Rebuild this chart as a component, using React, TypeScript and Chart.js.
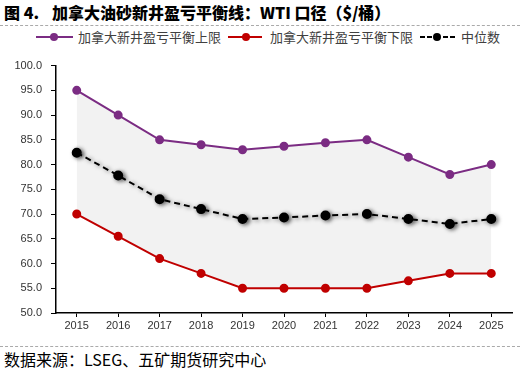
import React, { useEffect, useRef } from "react";
import { Chart, registerables } from "chart.js";

Chart.register(...registerables);

const years = ["2015", "2016", "2017", "2018", "2019", "2020", "2021", "2022", "2023", "2024", "2025"];
const upperValues = [95, 90, 85, 84, 83, 83.7, 84.4, 85, 81.5, 78, 80];
const lowerValues = [70, 65.5, 61, 58, 55, 55, 55, 55, 56.5, 58, 58];
const medianValues = [82.4, 77.8, 73, 71, 69, 69.3, 69.7, 70, 69, 68, 69];
const seriesNames = ["加拿大新井盈亏平衡上限", "加拿大新井盈亏平衡下限", "中位数"];

const PURPLE = "#7B2C83";
const RED = "#C00000";

const shadowPlugin = {
  id: "medianShadow",
  beforeDatasetDraw(chart: any, args: any) {
    if (args.index === 2) {
      const ctx = chart.ctx;
      ctx.save();
      ctx.shadowColor = "rgba(0,0,0,0.55)";
      ctx.shadowBlur = 4;
      ctx.shadowOffsetX = 2;
      ctx.shadowOffsetY = 1;
    }
  },
  afterDatasetDraw(chart: any, args: any) {
    if (args.index === 2) chart.ctx.restore();
  },
};

export default function App() {
  const ref = useRef<HTMLCanvasElement>(null);
  useEffect(() => {
    if (!ref.current) return;
    const chart = new Chart(ref.current, {
      type: "line",
      data: {
        labels: years,
        datasets: [
          {
            label: seriesNames[0],
            data: upperValues,
            borderColor: PURPLE,
            backgroundColor: "#f2f2f2",
            pointBackgroundColor: PURPLE,
            pointBorderColor: PURPLE,
            borderWidth: 2,
            pointRadius: 3.5,
            fill: { target: 1 },
            tension: 0,
            order: 2,
          },
          {
            label: seriesNames[1],
            data: lowerValues,
            borderColor: RED,
            backgroundColor: RED,
            pointBackgroundColor: RED,
            pointBorderColor: RED,
            borderWidth: 2,
            pointRadius: 3.5,
            fill: false,
            tension: 0,
            order: 1,
          },
          {
            label: seriesNames[2],
            data: medianValues,
            borderColor: "#000",
            backgroundColor: "#000",
            pointBackgroundColor: "#000",
            pointBorderColor: "#000",
            borderWidth: 2,
            borderDash: [6, 4],
            pointRadius: 4,
            fill: false,
            tension: 0,
            order: 0,
          },
        ],
      },
      options: {
        animation: false,
        responsive: false,
        maintainAspectRatio: false,
        layout: { padding: { left: 0, right: 8, top: 14, bottom: 0 } },
        plugins: { legend: { display: false }, tooltip: { enabled: false } },
        scales: {
          x: {
            offset: true,
            grid: { display: true, drawOnChartArea: false, drawTicks: true, tickLength: 4, color: "#000", offset: false },
            border: { display: true, color: "#000", width: 1.5 },
            ticks: { color: "#333", font: { family: "Liberation Sans", size: 11 }, padding: 2, maxRotation: 0 },
            afterFit: (s: any) => { s.height = 22; },
          },
          y: {
            min: 50,
            max: 100,
            grid: { display: true, drawOnChartArea: false, drawTicks: true, tickLength: 5, color: "#000" },
            border: { display: true, color: "#000", width: 1.5 },
            ticks: {
              stepSize: 5,
              color: "#333",
              font: { family: "Liberation Sans", size: 11 },
              padding: 9,
              callback: (v: any) => Number(v).toFixed(1),
            },
            afterFit: (s: any) => { s.width = 56; },
          },
        },
      },
      plugins: [shadowPlugin],
    });
    return () => chart.destroy();
  }, []);

  const legendText: React.CSSProperties = {
    position: "absolute",
    top: 29,
    fontSize: 13,
    lineHeight: "16px",
    color: "#404040",
    fontFamily: "'Noto Sans CJK SC', sans-serif",
    whiteSpace: "nowrap",
  };
  const seg = (left: number, width: number, color: string): React.CSSProperties => ({
    position: "absolute",
    left,
    top: 36,
    width,
    height: 2,
    background: color,
  });
  const dot = (cx: number, color: string): React.CSSProperties => ({
    position: "absolute",
    left: cx - 4,
    top: 33,
    width: 8,
    height: 8,
    borderRadius: 4,
    background: color,
  });
  const titleStyle: React.CSSProperties = {
    position: "absolute",
    top: 2,
    fontSize: 16,
    lineHeight: "20px",
    fontWeight: 900,
    color: "#000",
    fontFamily: "'Noto Sans CJK SC', sans-serif",
    whiteSpace: "nowrap",
  };

  return (
    <div style={{ position: "fixed", left: 0, top: 0, width: 520, height: 372, background: "#fff", overflow: "hidden" }}>
      <div style={{ ...titleStyle, left: 4 }}>图 4.</div>
      <div style={{ ...titleStyle, left: 52 }}>加拿大油砂新井盈亏平衡线：WTI 口径（$/桶）</div>
      <div style={{ position: "absolute", left: 0, top: 25, width: 520, borderTop: "1px dashed #aaa" }} />
      <div style={seg(36, 37, PURPLE)} />
      <div style={dot(54, PURPLE)} />
      <div style={{ ...legendText, left: 78 }}>{seriesNames[0]}</div>
      <div style={seg(228, 34, RED)} />
      <div style={dot(246, RED)} />
      <div style={{ ...legendText, left: 270 }}>{seriesNames[1]}</div>
      <div style={seg(420, 5, "#000")} />
      <div style={seg(427, 5, "#000")} />
      <div style={dot(437, "#000")} />
      <div style={seg(443, 5, "#000")} />
      <div style={seg(450, 5, "#000")} />
      <div style={{ ...legendText, left: 461 }}>{seriesNames[2]}</div>
      <canvas ref={ref} width={520} height={285} style={{ position: "absolute", left: 0, top: 50, width: 520, height: 285 }} />
      <div style={{ position: "absolute", left: 0, top: 346, width: 520, borderTop: "1px dashed #aaa" }} />
      <div
        style={{
          position: "absolute",
          left: 4,
          top: 349,
          fontSize: 16,
          lineHeight: "20px",
          color: "#000",
          fontFamily: "'Noto Sans CJK SC', sans-serif",
          whiteSpace: "nowrap",
        }}
      >
        数据来源：LSEG、五矿期货研究中心
      </div>
    </div>
  );
}
